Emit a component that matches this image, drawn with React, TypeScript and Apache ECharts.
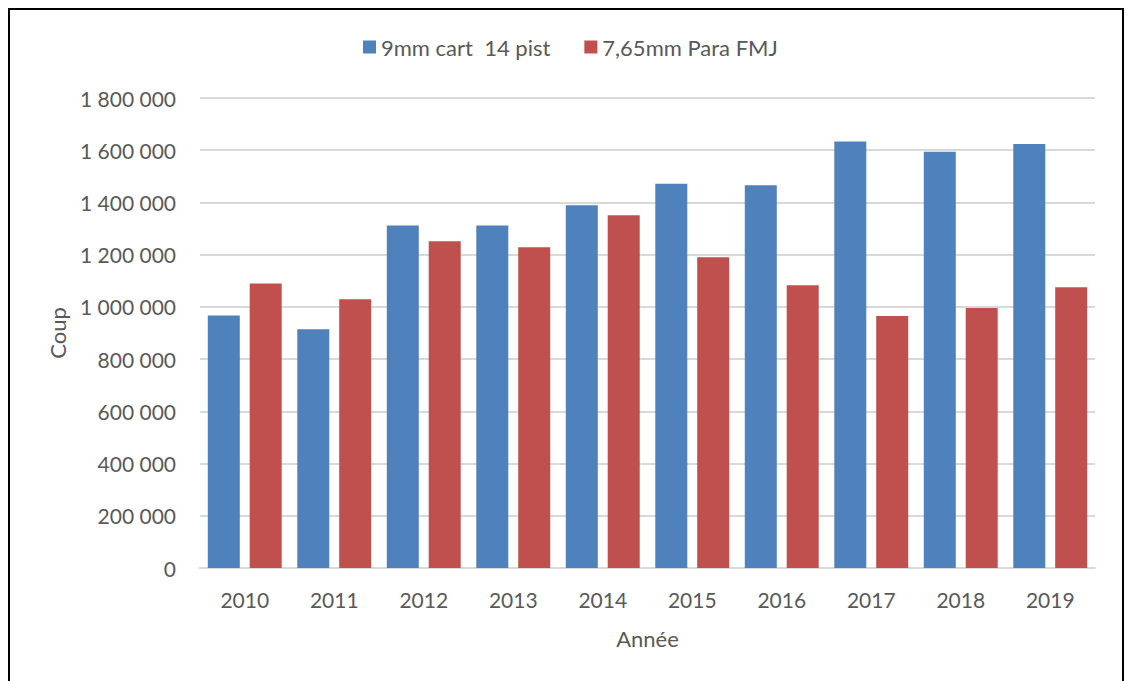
import React, { useEffect, useRef } from "react";
import * as echarts from "echarts";

const categories = ["2010", "2011", "2012", "2013", "2014", "2015", "2016", "2017", "2018", "2019"];
const series9mm = [967000, 914000, 1312000, 1312000, 1389000, 1472000, 1466000, 1633000, 1594000, 1624000];
const series765 = [1090000, 1029000, 1251000, 1228000, 1351000, 1190000, 1083000, 965000, 996000, 1075000];
const seriesNames = ["9mm cart  14 pist", "7,65mm Para FMJ"];
const yTicks = { min: 0, max: 1800000, interval: 200000 };

const FONT = "Lato, 'Open Sans', sans-serif";
const GRAY = "#595959";

function fmt(v: number): string {
  return String(v).replace(/\B(?=(\d{3})+(?!\d))/g, " ");
}

export default function App() {
  const ref = useRef<HTMLDivElement>(null);
  useEffect(() => {
    if (!ref.current) return;
    const chart = echarts.init(ref.current, null, { renderer: "svg" });
    chart.setOption({
      animation: false,
      backgroundColor: "#ffffff",
      textStyle: { fontFamily: FONT },
      graphic: [
        {
          type: "rect",
          shape: { x: 9, y: 9, width: 1114, height: 700 },
          style: { fill: "none", stroke: "#000000", lineWidth: 2 },
          silent: true,
        },
      ],
      legend: {
        data: seriesNames,
        left: 363,
        top: 36,
        padding: 0,
        itemWidth: 13,
        itemHeight: 13,
        itemGap: 34,
        icon: "rect",
        textStyle: { color: GRAY, fontSize: 22, fontFamily: FONT },
      },
      grid: { left: 200, right: 32, top: 98, bottom: 113, containLabel: false },
      xAxis: {
        type: "category",
        data: categories,
        name: "Année",
        nameLocation: "middle",
        nameGap: 59,
        nameTextStyle: { color: GRAY, fontSize: 22, fontFamily: FONT },
        axisLine: { lineStyle: { color: "#d9d9d9", width: 2 } },
        axisTick: { show: false },
        axisLabel: { color: GRAY, fontSize: 21, margin: 21, fontFamily: FONT },
      },
      yAxis: {
        type: "value",
        min: yTicks.min,
        max: yTicks.max,
        interval: yTicks.interval,
        name: "Coup",
        nameLocation: "middle",
        nameGap: 132,
        nameTextStyle: { color: GRAY, fontSize: 22, fontFamily: FONT },
        axisLine: { show: false },
        axisTick: { show: false },
        axisLabel: { color: GRAY, fontSize: 21, margin: 24, fontFamily: FONT, formatter: (v: number) => fmt(v) },
        splitLine: { lineStyle: { color: "#d9d9d9", width: 2 } },
      },
      series: [
        {
          name: seriesNames[0],
          type: "bar",
          data: series9mm,
          barWidth: 32,
          barGap: "31%",
          itemStyle: { color: "#4f81bd" },
        },
        {
          name: seriesNames[1],
          type: "bar",
          data: series765,
          barWidth: 32,
          itemStyle: { color: "#c0504d" },
        },
      ],
    });
    return () => chart.dispose();
  }, []);
  return (
    <div
      ref={ref}
      style={{ position: "fixed", left: 0, top: 0, width: 1127, height: 681 }}
    />
  );
}
